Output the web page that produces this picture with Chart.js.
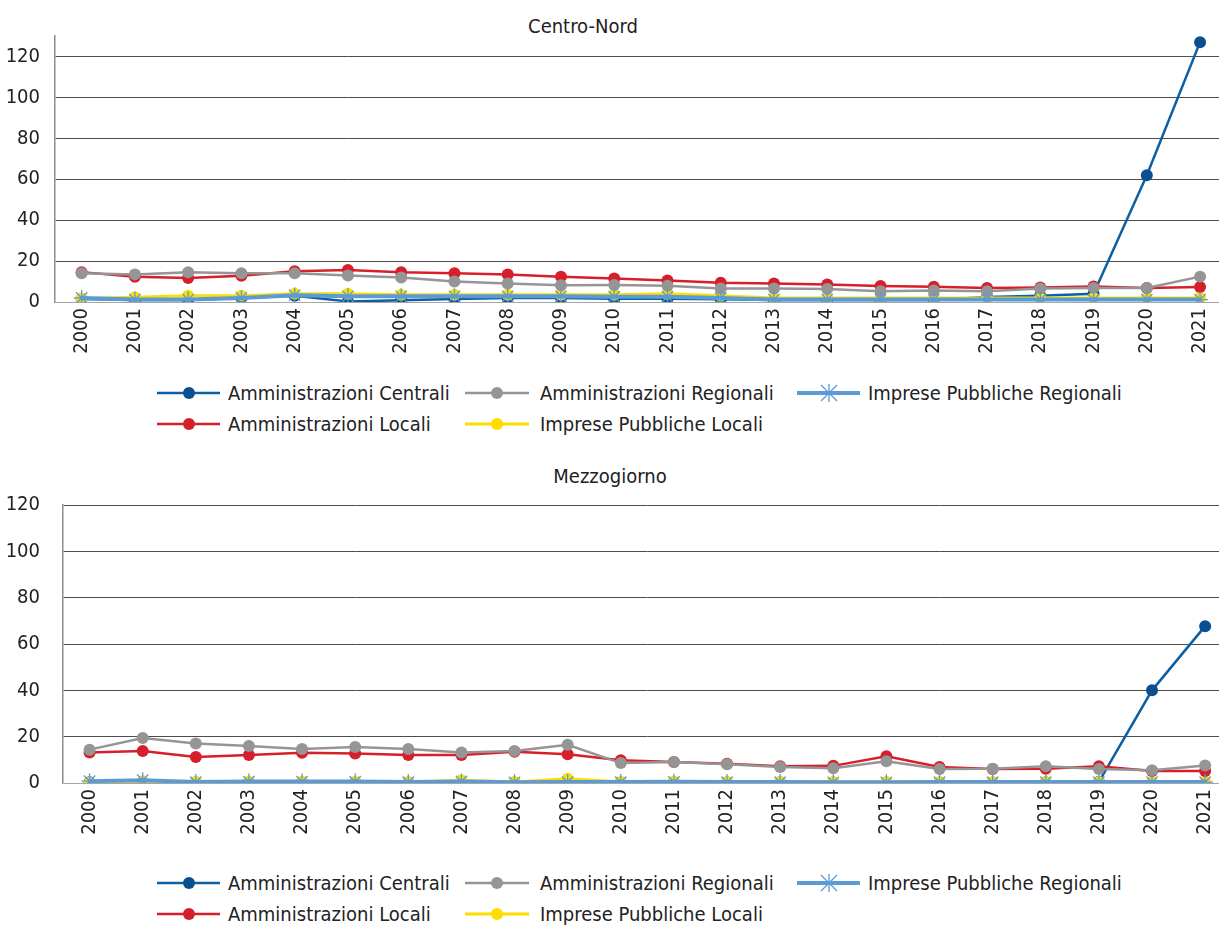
<!DOCTYPE html>
<html lang="it">
<head>
<meta charset="utf-8">
<title>Centro-Nord e Mezzogiorno</title>
<script src="https://cdn.jsdelivr.net/npm/chart.js@4.4.1/dist/chart.umd.min.js"></script>
<style>
  html, body { margin: 0; padding: 0; background: #fff; }
  body { width: 1219px; height: 926px; position: relative; overflow: hidden;
         font-family: 'Liberation Sans Narrow', 'DejaVu Sans Condensed', sans-serif; color: #222; }
  .box { position: absolute; left: 0; }
  .titolo { position: absolute; font-size: 20px; line-height: 24px; white-space: nowrap; transform: translateX(-50%); }
  .legend { position: absolute; left: 0; width: 1219px; height: 66px; font-size: 20px; }
  .item { position: absolute; display: flex; align-items: center; white-space: nowrap; height: 26px; }
  .item svg { margin-right: 8px; }
</style>
</head>
<body>
<div class="titolo" style="left:583px;top:14px">Centro-Nord</div>
<div class="box" style="top:0;width:1236px;height:362px"><canvas id="chartNord"></canvas></div>
<div class="legend" id="legendNord" style="top:380px"></div>
<div class="titolo" style="left:610px;top:464px">Mezzogiorno</div>
<div class="box" style="top:450px;width:1241px;height:393px"><canvas id="chartSud"></canvas></div>
<div class="legend" id="legendSud" style="top:870px"></div>
<script>
// dati
const anni = ['2000','2001','2002','2003','2004','2005','2006','2007','2008','2009','2010',
              '2011','2012','2013','2014','2015','2016','2017','2018','2019','2020','2021'];
const tickY = [0, 20, 40, 60, 80, 100, 120];
const nomi = ['Amministrazioni Centrali', 'Amministrazioni Regionali', 'Imprese Pubbliche Regionali',
              'Amministrazioni Locali', 'Imprese Pubbliche Locali'];

// Centro-Nord
const centraliNord  = [1.5, 1, 1, 2, 3, 0.3, 0.8, 1.5, 2, 2, 1.6, 1.6, 1.4, 1, 1, 1, 1, 2.5, 3, 4, 62, 127];
const regionaliNord = [14, 13.5, 14.5, 14, 14, 13, 12, 10, 9, 8.2, 8.3, 7.9, 6.6, 6.6, 6.3, 5.3, 5.6, 5.3, 6.6, 6.9, 6.8, 12.4];
const iprNord       = [2, 1.2, 1.2, 2, 3.3, 2.8, 2.8, 2.8, 2.8, 2.8, 2.6, 2.6, 2, 1.2, 1.2, 1.2, 1.2, 1.2, 1.2, 1.2, 1.2, 1.2];
const localiNord    = [14.6, 12.3, 11.7, 12.8, 15, 15.6, 14.5, 14, 13.5, 12.4, 11.5, 10.5, 9.4, 9.1, 8.6, 7.8, 7.4, 6.9, 7.1, 7.6, 6.8, 7.3];
const iplNord       = [1.7, 2.3, 3, 3, 4, 4, 3.5, 3.5, 3.5, 3.5, 3.5, 4, 3, 2, 2, 2, 2, 2, 2, 2, 2, 2];

// Mezzogiorno
const centraliSud  = [0.3, 0.3, 0.2, 0.2, 0.2, 0.2, 0.2, 0.3, 0.2, 0.2, 0.2, 0.2, 0.2, 0.2, 0.2, 0.2, 0.2, 0.2, 0.3, 0.5, 40, 67.7];
const regionaliSud = [14.4, 19.4, 17, 16, 14.7, 15.5, 14.7, 13.2, 13.8, 16.5, 8.6, 9.1, 8.1, 6.9, 6.4, 9.4, 6, 6.2, 7.2, 6, 5.5, 7.6];
const iprSud       = [0.8, 1.2, 0.4, 0.6, 0.6, 0.6, 0.4, 0.7, 0.3, 0.4, 0.4, 0.5, 0.4, 0.4, 0.3, 0.3, 0.4, 0.4, 0.4, 0.4, 0.4, 0.4];
const localiSud    = [13.2, 13.8, 11.2, 12.1, 13.1, 12.7, 12.1, 12.1, 13.5, 12.4, 9.8, 9.1, 8.3, 7.2, 7.4, 11.5, 6.9, 6, 6.2, 7.2, 5.2, 5.2];
const iplSud       = [0.1, 0.8, 0.5, 0.6, 0.6, 0.5, 0.3, 1.2, 0.4, 1.8, 0.5, 0.6, 0.5, 0.5, 0.4, 0.4, 0.4, 0.4, 0.4, 0.4, 0.4, 0.5];

const FONT = "'Liberation Sans Narrow', 'DejaVu Sans Condensed', sans-serif";

// stile per serie (stesso ordine di nomi)
const stili = [
    { linea: '#0d5fa3', punto: '#0a4f8f', spessore: 2.5, forma: 'circle', raggio: 6, ordine: 4 },
    { linea: '#959595', punto: '#959595', spessore: 2.5, forma: 'circle', raggio: 6, ordine: 1 },
    { linea: '#5b9bd5', punto: '#5b9bd5', spessore: 4,   forma: 'star',   raggio: 8, ordine: 0 },
    { linea: '#d71f2b', punto: '#d71f2b', spessore: 2.5, forma: 'circle', raggio: 6, ordine: 2 },
    { linea: '#ffdd00', punto: '#ffdd00', spessore: 3,   forma: 'circle', raggio: 6, ordine: 3 }
];

function costruisciDatasets(serie) {
    return serie.map((valori, i) => {
        const s = stili[i];
        return {
            label: nomi[i],
            data: valori,
            borderColor: s.linea,
            backgroundColor: s.punto,
            borderWidth: s.spessore,
            pointStyle: s.forma,
            pointRadius: s.raggio,
            pointBackgroundColor: s.forma === 'star' ? 'transparent' : s.punto,
            pointBorderColor: s.punto,
            pointBorderWidth: s.forma === 'star' ? 1.3 : 0,
            tension: 0,
            order: s.ordine
        };
    });
}

function opzioni(yMax, yLarghezza, yPadding, paddingTop) {
    return {
        responsive: true,
        maintainAspectRatio: false,
        animation: false,
        layout: { padding: { top: paddingTop } },
        plugins: {
            legend: { display: false },
            tooltip: { enabled: false },
            title: { display: false }
        },
        scales: {
            x: {
                offset: true,
                grid: { display: false, drawTicks: false },
                border: { display: false },
                ticks: {
                    color: '#222',
                    font: { family: FONT, size: 20 },
                    minRotation: 90,
                    maxRotation: 90,
                    autoSkip: false,
                    padding: 6
                },
                afterFit: s => { s.height = 60; }
            },
            y: {
                min: 0,
                max: yMax,
                afterBuildTicks: s => { s.ticks = tickY.map(v => ({ value: v })); },
                grid: {
                    drawTicks: false,
                    color: c => (c.tick && c.tick.value === 0) ? '#a6a6a6' : '#4d4d4d',
                    lineWidth: 1
                },
                border: { display: true, color: '#8c8c8c', width: 1.5 },
                ticks: { color: '#222', font: { family: FONT, size: 20 }, padding: yPadding },
                afterFit: s => { s.width = yLarghezza; }
            }
        }
    };
}

function legendaHtml(id) {
    const box = document.getElementById(id);
    const colonne = [157, 465, 797];
    const testoOffset = [71, 75, 71];
    nomi.forEach((nome, i) => {
        const s = stili[i];
        const riga = i < 3 ? 0 : 1;
        const col = i < 3 ? i : i - 3;
        const marker = s.forma === 'star'
            ? `<g stroke="${s.punto}" stroke-width="1.3"><line x1="24" y1="4" x2="40" y2="20"/><line x1="24" y1="20" x2="40" y2="4"/><line x1="32" y1="3" x2="32" y2="21"/><line x1="22" y1="12" x2="42" y2="12"/></g>`
            : `<circle cx="32" cy="12" r="6" fill="${s.punto}"/>`;
        const div = document.createElement('div');
        div.className = 'item';
        div.style.left = colonne[col] + 'px';
        div.style.top = (riga * 31) + 'px';
        div.innerHTML = `<svg width="${testoOffset[col] - 8}" height="24" viewBox="0 0 ${testoOffset[col] - 8} 24">` +
            `<line x1="0" y1="12" x2="64" y2="12" stroke="${s.linea}" stroke-width="${s.spessore}"/>${marker}</svg>` +
            `<span>${nome}</span>`;
        box.appendChild(div);
    });
}

new Chart(document.getElementById('chartNord').getContext('2d'), {
    type: 'line',
    data: {
        labels: anni,
        datasets: costruisciDatasets([centraliNord, regionaliNord, iprNord, localiNord, iplNord])
    },
    options: opzioni(130, 55, 15, 36)
});

new Chart(document.getElementById('chartSud').getContext('2d'), {
    type: 'line',
    data: {
        labels: anni,
        datasets: costruisciDatasets([centraliSud, regionaliSud, iprSud, localiSud, iplSud])
    },
    options: opzioni(120, 63, 23, 55)
});

legendaHtml('legendNord');
legendaHtml('legendSud');
</script>
</body>
</html>
